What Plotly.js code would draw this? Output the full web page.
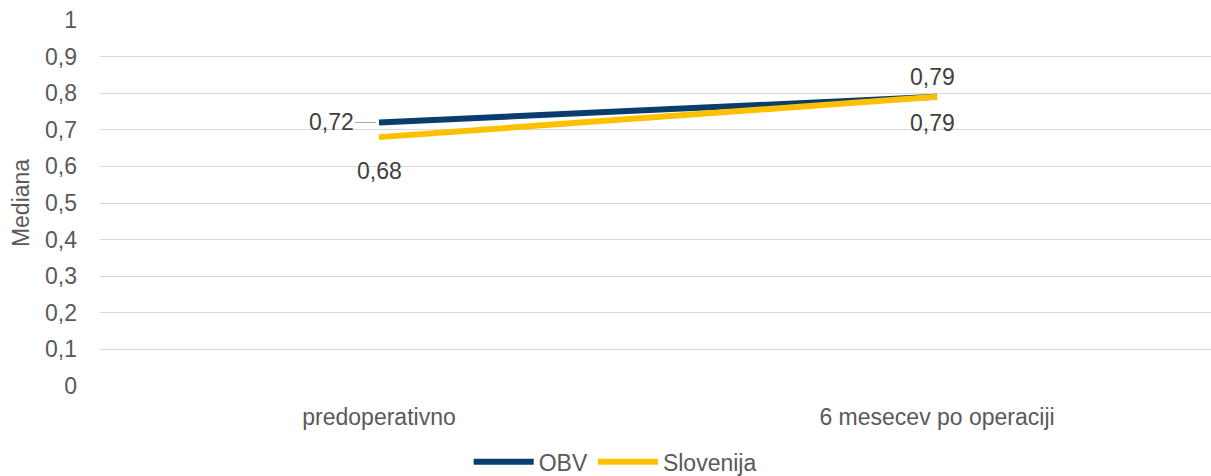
<!DOCTYPE html>
<html><head><meta charset="utf-8">
<script src="https://cdn.plot.ly/plotly-3.0.1.min.js"></script>
<style>html,body{margin:0;padding:0;background:#fff}#chart{width:1211px;height:476px}</style>
</head><body><div id="chart"></div>
<script>
const categories = ["predoperativno", "6 mesecev po operaciji"];
const obv = [0.72, 0.79];
const slovenija = [0.68, 0.79];
const yTicks = [0, 0.1, 0.2, 0.3, 0.4, 0.5, 0.6, 0.7, 0.8, 0.9, 1];

const fmt = v => v.toFixed(2).replace('.', ',');
const textColor = '#595959';
const FONT = 'Liberation Sans, Arial';

const traces = [
  {x: categories, y: obv, name: 'OBV', type: 'scatter', mode: 'lines',
   line: {color: '#0B3C6E', width: 6}, hoverinfo: 'skip'},
  {x: categories, y: slovenija, name: 'Slovenija', type: 'scatter', mode: 'lines',
   line: {color: '#FFC000', width: 6}, hoverinfo: 'skip'}
];

const labelFont = {family: FONT, size: 23, color: '#404040'};
const annotations = [
  {x: categories[0], y: obv[0], text: fmt(obv[0]), showarrow: true, ax: -48, ay: 0,
   arrowhead: 0, arrowwidth: 1, arrowcolor: '#A6A6A6', standoff: 3, yshift: 0},
  {x: categories[1], y: obv[1], text: fmt(obv[1]), showarrow: false, yshift: 20, xshift: -5},
  {x: categories[0], y: slovenija[0], text: fmt(slovenija[0]), showarrow: false, yshift: -34},
  {x: categories[1], y: slovenija[1], text: fmt(slovenija[1]), showarrow: false, yshift: -26, xshift: -5}
].map(a => Object.assign({xref: 'x', yref: 'y', font: labelFont}, a));

const layout = {
  width: 1211, height: 476,
  margin: {l: 100, r: 0, t: 20, b: 90},
  paper_bgcolor: '#fff', plot_bgcolor: '#fff',
  separators: ', ',
  showlegend: true,
  legend: {orientation: 'h', x: 0.508, xref: 'container', xanchor: 'center', y: 0.03, yref: 'container', yanchor: 'middle',
           font: {family: FONT, size: 23, color: textColor}, itemwidth: 60, tracegroupgap: 0},
  xaxis: {type: 'category', range: [-0.5, 1.491], showgrid: false, zeroline: false, showline: false,
          ticks: '', tickfont: {family: FONT, size: 23, color: textColor},
          ticklabelstandoff: 15, fixedrange: true},
  yaxis: {range: [0, 1], tickvals: yTicks, ticktext: yTicks.map(v => String(v).replace('.', ',')),
          showgrid: true, gridcolor: '#D9D9D9', gridwidth: 1, zeroline: false, showline: false, ticks: '',
          tickfont: {family: FONT, size: 23, color: textColor}, ticklabelstandoff: 22,
          title: {text: 'Mediana', font: {family: FONT, size: 23, color: textColor}, standoff: 8},
          fixedrange: true},
  annotations: annotations
};

Plotly.newPlot('chart', traces, layout, {displayModeBar: false, staticPlot: true});
</script></body></html>
